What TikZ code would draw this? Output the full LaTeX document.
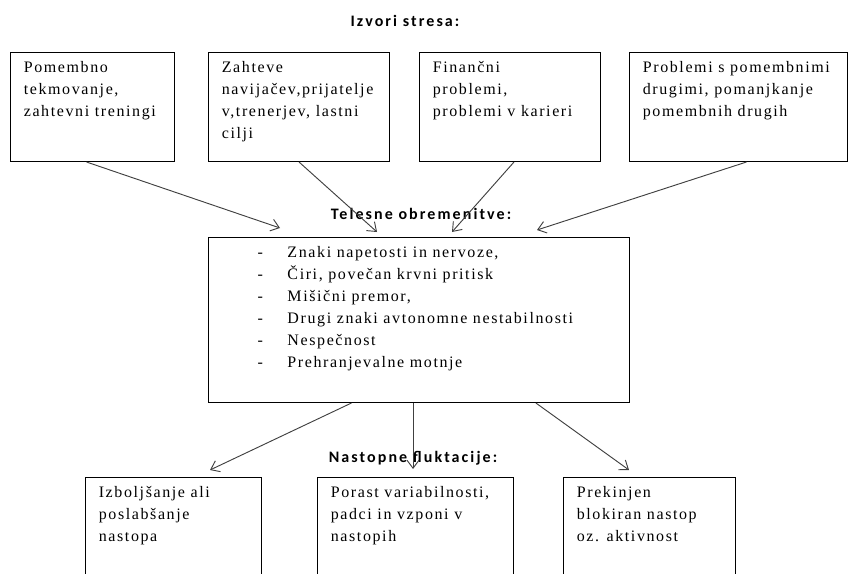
\documentclass[tikz,border=0pt]{standalone}
\usepackage{fontspec}
\setmainfont{Liberation Serif}[LetterSpace=10]
\newfontfamily\headfont{Carlito}[LetterSpace=13]
\usepackage{tikz}
\usetikzlibrary{positioning}
\usetikzlibrary{calc}
\usetikzlibrary{arrows.meta}

\newcommand{\celltext}[3]{\parbox[t][#2][t]{#1}{\raggedright #3}}
\newcommand{\dashitem}[1]{\hspace*{26.75pt}\makebox[22.5pt][l]{-}#1}

\begin{document}
\begin{tikzpicture}
  [
    x=0.75pt, y=-0.75pt,
    cell/.style={draw=black, line width=0.75pt, anchor=north west,
      inner xsep=10pt, inner ysep=7pt,
      font=\fontsize{12}{16.5}\selectfont},
    head/.style={font=\headfont\bfseries\fontsize{12}{14}\selectfont},
    arr/.style={draw=black!75, line width=0.7pt,
      -{Straight Barb[length=6pt,width=9pt]}}
  ]

  \useasboundingbox (0,0) rectangle (849,574);
  \clip (0,0) rectangle (849,574);

  \node (h1) at (405,21)  [head] {Izvori stresa:};
  \node (h2) at (421,214) [head] {Telesne obremenitve:};
  \node (h3) at (413,458) [head] {Nastopne fluktacije:};

  \node (src1) at ( 10,52) [cell]
    {\celltext{103pt}{67.75pt}{Pomembno\\tekmovanje,\\zahtevni treningi}};
  \node (src2) at (208,52) [cell]
    {\celltext{115.75pt}{67.75pt}{Zahteve\\navijačev,prijatelje\\v,trenerjev, lastni\\cilji}};
  \node (src3) at (419,52) [cell]
    {\celltext{115.75pt}{67.75pt}{Finančni\\problemi,\\problemi v karieri}};
  \node (src4) at (629,52) [cell]
    {\celltext{143.5pt}{67.75pt}{Problemi s pomembnimi\\drugimi, pomanjkanje\\pomembnih drugih}};

  \node (mid) at (208,237) [cell]
    {\celltext{295.75pt}{109.75pt}{\dashitem{Znaki napetosti in nervoze,}\\
      \dashitem{Čiri, povečan krvni pritisk}\\
      \dashitem{Mišični premor,}\\
      \dashitem{Drugi znaki avtonomne nestabilnosti}\\
      \dashitem{Nespečnost}\\
      \dashitem{Prehranjevalne motnje}}};

  \node (res1) at ( 85,477) [cell]
    {\celltext{112pt}{90pt}{Izboljšanje ali\\poslabšanje\\nastopa}};
  \node (res2) at (317,477) [cell]
    {\celltext{127pt}{90pt}{Porast variabilnosti,\\padci in vzponi v\\nastopih}};
  \node (res3) at (563,477) [cell]
    {\celltext{109pt}{90pt}{Prekinjen\\blokiran nastop\\oz. aktivnost}};

  \coordinate (t1) at (280,228);
  \coordinate (t2) at (377,232);
  \coordinate (t3) at (452,232);
  \coordinate (t4) at (537,230);
  \coordinate (b1) at (210,470);
  \coordinate (b2) at (413,469);
  \coordinate (b3) at (629,470);

  \draw [arr] ([xshift=-4.5pt]src1.south) to (t1);
  \draw [arr] (src2.south) to (t2);
  \draw [arr] ([xshift=3pt]src3.south) to (t3);
  \draw [arr] ([xshift=6pt]src4.south) to (t4);

  \draw [arr] ($(mid.south west)!0.34!(mid.south east)$) to (b1);
  \draw [arr] (mid.south -| b2) to (b2);
  \draw [arr] ($(mid.south west)!0.777!(mid.south east)$) to (b3);
\end{tikzpicture}
\end{document}
